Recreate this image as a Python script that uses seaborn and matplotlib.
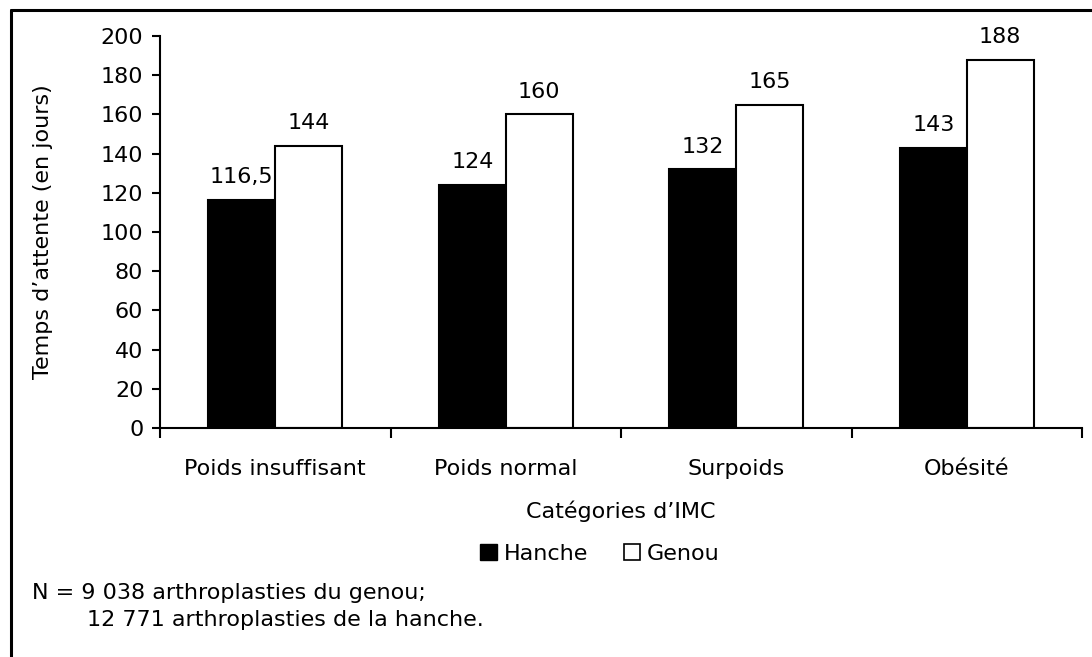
import matplotlib
matplotlib.use("Agg")
import matplotlib.pyplot as plt
import seaborn as sns
import pandas as pd
from matplotlib.lines import Line2D
from matplotlib.patches import Patch

categories = ["Poids insuffisant", "Poids normal", "Surpoids", "Obésité"]
series = ["Hanche", "Genou"]
hanche = [116.5, 124, 132, 143]
genou = [144, 160, 165, 188]
yticks = [0, 20, 40, 60, 80, 100, 120, 140, 160, 180, 200]

df = pd.DataFrame({
    "cat": categories * 2,
    "serie": ["Hanche"] * 4 + ["Genou"] * 4,
    "val": hanche + genou,
})

sns.set_theme(style="white")
plt.rcParams["font.family"] = ["DejaVu Sans"]
plt.rcParams["text.color"] = "black"
plt.rcParams["axes.labelcolor"] = "black"
plt.rcParams["xtick.color"] = "black"
plt.rcParams["ytick.color"] = "black"

FS = 16

fig = plt.figure(figsize=(10.92, 6.57), dpi=100)
ax = fig.add_axes([160/1092, 1-428/657, (1082-160)/1092, (428-36)/657])

sns.barplot(data=df, x="cat", y="val", hue="serie", order=categories,
            hue_order=series, palette={"Hanche": "black", "Genou": "white"},
            edgecolor="black", linewidth=1.5, width=0.58, ax=ax,
            legend=False, errorbar=None, saturation=1)

for cont in ax.containers:
    labels = [("%g" % v).replace(".", ",") for v in cont.datavalues]
    ax.bar_label(cont, labels=labels, padding=9, fontsize=FS, color="black")

ax.set_ylim(0, 200)
ax.set_yticks(yticks)
ax.set_xlim(-0.5, 3.5)
ax.set_xticks([-0.5, 0.5, 1.5, 2.5, 3.5])
ax.set_xticklabels([])
ax.set_xticks(range(4), minor=True)
ax.set_xticklabels(categories, minor=True)
ax.tick_params(axis="x", which="major", length=7, width=1.5, direction="out", color="black", bottom=True)
ax.tick_params(axis="x", which="minor", length=0, pad=22, labelsize=FS)
ax.tick_params(axis="y", length=6, width=1.5, direction="out", color="black", left=True, labelsize=FS, pad=6)

for s in ["top", "right"]:
    ax.spines[s].set_visible(False)
for s in ["left", "bottom"]:
    ax.spines[s].set_color("black")
    ax.spines[s].set_linewidth(1.5)

ax.set_xlabel("Catégories d’IMC", fontsize=FS, labelpad=16)
ax.set_ylabel("Temps d’attente (en jours)", fontsize=FS, labelpad=34)

handles = [Patch(facecolor="black", edgecolor="black", label="Hanche"),
           Patch(facecolor="white", edgecolor="black", linewidth=1.2, label="Genou")]
fig.legend(handles=handles, loc="center", bbox_to_anchor=(600/1092, 1-554/657),
           ncol=2, frameon=False, fontsize=FS, handlelength=0.75, handleheight=0.75,
           handletextpad=0.3, columnspacing=1.6)

fig.text(32/1092, 1-593/657, "N = 9 038 arthroplasties du genou;", fontsize=FS, va="center", ha="left")
fig.text(87/1092, 1-620/657, "12 771 arthroplasties de la hanche.", fontsize=FS, va="center", ha="left")

fig.add_artist(Line2D([11/1092, 11/1092], [0, 1-10/657], transform=fig.transFigure, color="black", lw=2.2))
fig.add_artist(Line2D([11/1092, 1], [1-10/657, 1-10/657], transform=fig.transFigure, color="black", lw=2.2))

fig.savefig("out.png", dpi=100)
